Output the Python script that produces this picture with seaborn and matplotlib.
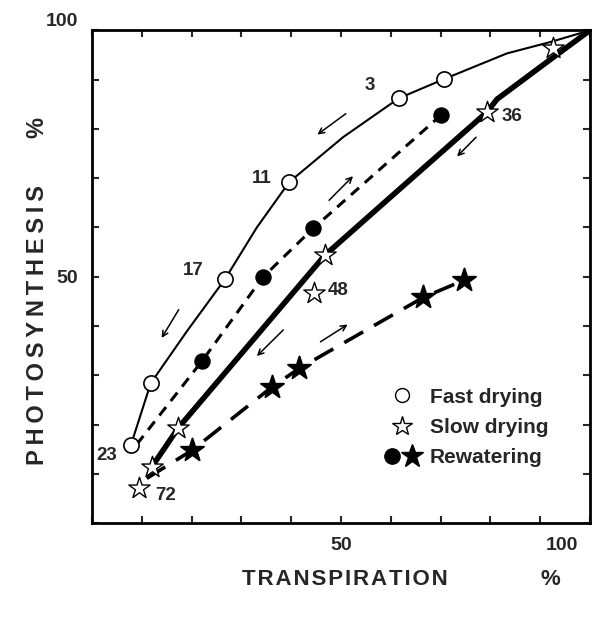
import numpy as np
import matplotlib
matplotlib.use("Agg")
import matplotlib.pyplot as plt
import matplotlib.transforms as mtransforms
import seaborn as sns
from matplotlib.lines import Line2D
from matplotlib.legend_handler import HandlerTuple

# Transpiration % (x) vs photosynthesis % (y)

# fast drying, open circles
fast_x = [70.7, 61.6, 39.6, 26.7, 11.8, 7.8]
fast_y = [90.1, 86.2, 69.2, 49.5, 28.4, 15.8]
# thin curve through them
fast_curve_x = [100, 92.0, 83.3, 70.7, 61.6, 50.4, 39.6, 33.1, 26.7, 19.1, 11.8, 7.8]
fast_curve_y = [100, 97.6, 95.3, 90.1, 86.2, 78.3, 69.2, 60.0, 49.5, 39.0, 28.4, 15.8]

# slow drying, open stars
slow_x = [92.6, 79.3, 46.8, 44.6, 17.3, 12.0, 9.4]
slow_y = [96.3, 83.4, 54.4, 46.6, 19.3, 11.4, 7.1]
slow_curve_x = [100, 92.6, 81.3, 79.3, 59.2, 46.8, 26.3, 17.3, 12.0]
slow_curve_y = [100, 94.5, 86.0, 83.4, 65.5, 54.4, 30.0, 19.3, 11.4]

# rewatering, filled circles (after fast drying)
rew_c_x = [22.1, 34.3, 44.4, 70.1]
rew_c_y = [32.9, 49.9, 59.8, 82.8]
rew_c_line_x = [9.0, 22.1, 34.3, 44.4, 70.1]
rew_c_line_y = [16.0, 32.9, 49.9, 59.8, 82.8]

# rewatering, filled stars (after slow drying)
rew_s_x = [20.1, 36.1, 41.6, 66.5, 74.7]
rew_s_y = [14.8, 27.6, 31.4, 45.8, 49.3]
rew_s_line_x = [11.0, 20.1, 36.1, 41.6, 66.5, 74.7]
rew_s_line_y = [9.1, 14.8, 27.6, 31.4, 45.8, 49.3]

# hours of drying next to points
hour_labels = ["3", "11", "17", "23", "36", "48", "72"]
hour_pos = [(55.8, 88.8), (34.1, 70.0), (20.3, 51.3), (3.0, 13.8),
            (84.3, 82.4), (49.4, 47.3), (14.7, 5.7)]

# direction arrows (from -> to)
arrows = [(51.4, 83.4, 44.8, 78.5), (47.2, 65.1, 52.8, 70.8),
          (77.5, 78.7, 72.9, 74.0), (17.7, 43.8, 13.7, 37.1),
          (38.8, 39.6, 32.7, 33.5), (45.4, 36.5, 51.8, 40.6)]

sns.set_style("ticks")
plt.rcParams['font.family'] = ['Liberation Sans', 'DejaVu Sans']
plt.rcParams['font.weight'] = 'bold'

fig = plt.figure(figsize=(6.09, 6.17), dpi=100)
ax = fig.add_axes([0.151, 0.152, 0.818, 0.799])

# curves
sns.lineplot(x=fast_curve_x, y=fast_curve_y, sort=False, estimator=None,
             color="black", lw=1.5, ax=ax, zorder=1)
sns.lineplot(x=slow_curve_x, y=slow_curve_y, sort=False, estimator=None,
             color="black", lw=4, ax=ax, zorder=1)
sns.lineplot(x=rew_c_line_x, y=rew_c_line_y, sort=False, estimator=None,
             color="black", lw=2.2, linestyle=(0, (3.5, 2.5)), ax=ax, zorder=1)
sns.lineplot(x=rew_s_line_x, y=rew_s_line_y, sort=False, estimator=None,
             color="black", lw=2.6, linestyle=(0, (6, 3.5)), ax=ax, zorder=1)

# markers
sns.scatterplot(x=fast_x, y=fast_y, marker="o", s=120, facecolor="white",
                edgecolor="black", linewidth=1.2, ax=ax, zorder=3)
sns.scatterplot(x=slow_x, y=slow_y, marker="*", s=260, facecolor="white",
                edgecolor="black", linewidth=1.0, ax=ax, zorder=3)
sns.scatterplot(x=rew_c_x, y=rew_c_y, marker="o", s=120, color="black",
                edgecolor="black", ax=ax, zorder=3)
sns.scatterplot(x=rew_s_x, y=rew_s_y, marker="*", s=300, color="black",
                edgecolor="black", ax=ax, zorder=3)

for lab, (tx, ty) in zip(hour_labels, hour_pos):
    ax.text(tx, ty, lab, fontsize=13.5, fontweight="bold", ha="center", va="center")

for x0, y0, x1, y1 in arrows:
    ax.annotate("", xy=(x1, y1), xytext=(x0, y0),
                arrowprops=dict(arrowstyle="->", color="black", lw=1.1,
                                mutation_scale=10))

# axes
ax.set_xlim(0, 100)
ax.set_ylim(0, 100)
ticks = np.arange(0, 101, 10)
labels = ["50" if t == 50 else ("100" if t == 100 else "") for t in ticks]
ax.set_xticks(ticks)
ax.set_xticklabels(labels, fontsize=14, fontweight="bold")
ax.set_yticks(ticks)
ax.set_yticklabels(labels, fontsize=14, fontweight="bold")
ax.tick_params(direction="in", length=5, width=1.5, top=True, right=True,
               pad=10)
x100 = ax.get_xticklabels()[-1]
x100.set_transform(x100.get_transform() +
                   mtransforms.ScaledTranslation(-0.28, 0, fig.dpi_scale_trans))
ax.get_yticklabels()[-1].set_va("bottom")
for sp in ax.spines.values():
    sp.set_linewidth(2)
    sp.set_color("black")
ax.set_xlabel("")
ax.set_ylabel("")

hair = "\u200a"
thin = "\u2009"
fig.text(0.567, 0.06, hair.join("TRANSPIRATION"), fontsize=16,
         fontweight="bold", ha="center", va="center")
fig.text(0.903, 0.06, "%", fontsize=16, fontweight="bold",
         ha="center", va="center")
fig.text(0.061, 0.473, thin.join("PHOTOSYNTHESIS"), fontsize=17,
         fontweight="bold", ha="center", va="center", rotation=90)
fig.text(0.061, 0.793, "%", fontsize=17, fontweight="bold",
         ha="center", va="center", rotation=90)

# legend
h_fast = Line2D([], [], marker="o", ls="", markersize=10,
                markerfacecolor="white", markeredgecolor="black")
h_slow = Line2D([], [], marker="*", ls="", markersize=15,
                markerfacecolor="white", markeredgecolor="black", markeredgewidth=1)
h_rc = Line2D([], [], marker="o", ls="", markersize=11, color="black")
h_rs = Line2D([], [], marker="*", ls="", markersize=17, color="black")
ax.legend([h_fast, h_slow, (h_rc, h_rs)],
          ["Fast drying", "Slow drying", "Rewatering"],
          handler_map={tuple: HandlerTuple(ndivide=None, pad=0.0)},
          loc="lower left", bbox_to_anchor=(0.545, 0.075), frameon=False,
          prop={"size": 15, "weight": "bold"}, handlelength=1.9,
          handletextpad=0.4, labelspacing=0.55)

fig.savefig("out.png", dpi=100)
